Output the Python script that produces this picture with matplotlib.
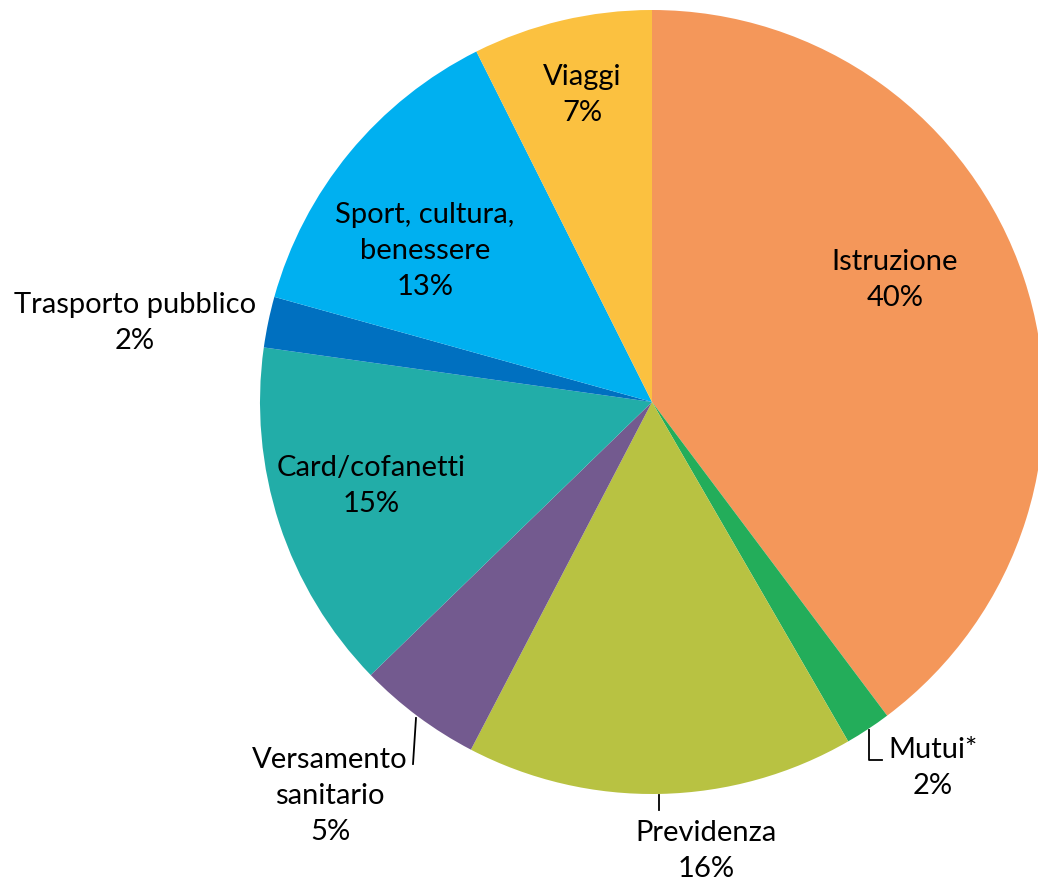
import matplotlib
matplotlib.use("Agg")
import matplotlib.pyplot as plt

# dati (quote percentuali, ordine orario partendo dall'alto)
categorie = ["Istruzione", "Mutui*", "Previdenza", "Versamento\nsanitario",
             "Card/cofanetti", "Trasporto pubblico", "Sport, cultura,\nbenessere", "Viaggi"]
quote = [39.8, 1.9, 16.0, 5.1, 14.5, 2.1, 13.3, 7.4]
etichette_pct = ["40%", "2%", "16%", "5%", "15%", "2%", "13%", "7%"]
colori = ["#F4975A", "#23AD5A", "#B8C242", "#735A8F", "#22ADA8", "#0070C0", "#00B0F0", "#FBC140"]

# posizioni etichette (pixel, centro del testo)
pos_etichette = [(895, 280), (933, 768), (706, 851), (330, 796),
                 (371, 486), (135, 323), (425, 251), (582, 95)]

W, H = 1038, 883
cx, cy, R = 652, 402, 392

fig = plt.figure(figsize=(W / 100, H / 100), dpi=100)
ax = fig.add_axes([0, 0, 1, 1])
ax.pie(quote, colors=colori, startangle=90, counterclock=False, radius=1,
       wedgeprops=dict(linewidth=0))
ax.set_xlim(-cx / R, (W - cx) / R)
ax.set_ylim(-(H - cy) / R, cy / R)
ax.set_aspect("equal")
ax.axis("off")


def px(x, y):
    return (x - cx) / R, (cy - y) / R


for cat, pct, (x, y) in zip(categorie, etichette_pct, pos_etichette):
    tx, ty = px(x, y)
    ax.text(tx, ty, cat + "\n" + pct, ha="center", va="center", fontsize=21,
            family=["Lato", "DejaVu Sans"], linespacing=1.47, color="black")

# linee guida
linee = [
    [(416, 718), (413, 764)],
    [(869, 730), (869, 760), (882, 760)],
    [(659, 795), (659, 810)],
]
for l in linee:
    pts = [px(x, y) for x, y in l]
    ax.plot([p[0] for p in pts], [p[1] for p in pts], color="black", lw=1.3)

fig.savefig("out.png", dpi=100)
